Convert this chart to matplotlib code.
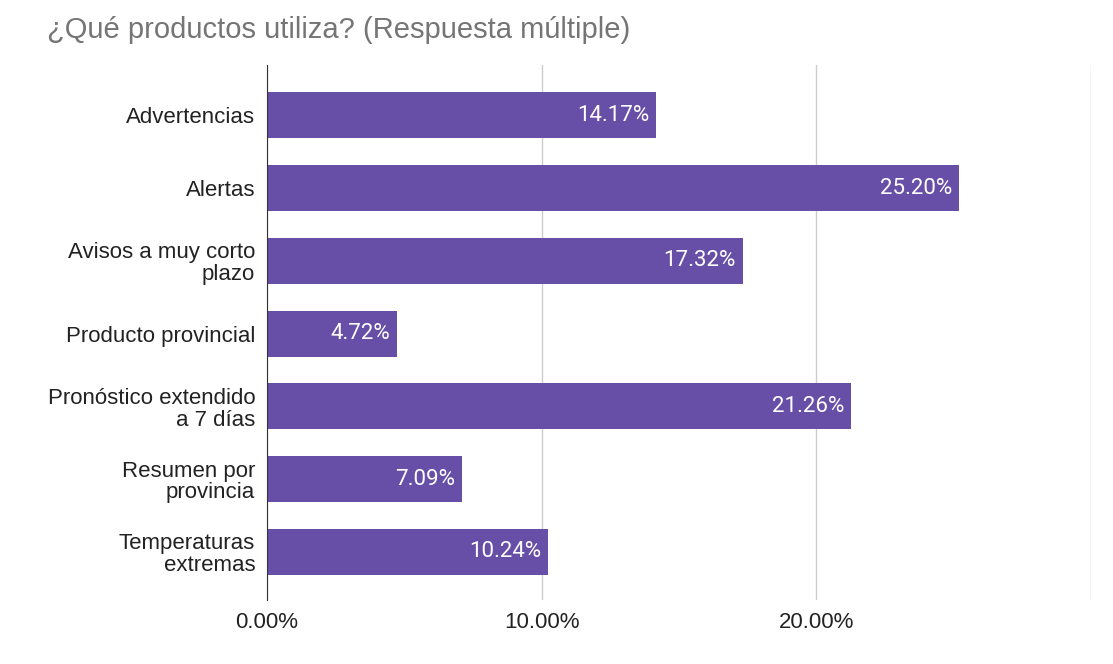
import matplotlib.pyplot as plt

plt.rcParams['font.family'] = ['Liberation Sans', 'DejaVu Sans']

categories = ['Advertencias', 'Alertas', 'Avisos a muy corto\nplazo',
              'Producto provincial', 'Pronóstico extendido\na 7 días',
              'Resumen por\nprovincia', 'Temperaturas\nextremas']
values = [14.17, 25.20, 17.32, 4.72, 21.26, 7.09, 10.24]
xticks = [0, 10, 20, 30]
xtick_labels = ['0.00%', '10.00%', '20.00%', '']

fig = plt.figure(figsize=(11.13, 6.64), dpi=100)
ax = fig.add_axes([0.2399, 0.0964, 0.7403, 0.8057])

ypos = range(len(categories))
bars = ax.barh(ypos, values, height=0.63, color='#674ea7', zorder=3)

for b, v in zip(bars, values):
    ax.text(v - 0.25, b.get_y() + b.get_height() / 2, f'{v:.2f}%',
            ha='right', va='center', color='white', fontsize=16,
            family=['Roboto', 'DejaVu Sans'], zorder=4)

ax.set_xlim(0, 30)
ax.set_ylim(6.66, -0.69)
ax.set_yticks(list(ypos))
ax.set_yticklabels(categories, fontsize=16, color='#222222', linespacing=1.05)
ax.set_xticks(xticks)
ax.set_xticklabels(xtick_labels, fontsize=16, color='#222222')
ax.tick_params(length=0)
ax.tick_params(axis='y', pad=8.5)
ax.tick_params(axis='x', pad=9)

ax.grid(axis='x', color='#cccccc', linewidth=1, zorder=0)
for s in ['top', 'right', 'bottom']:
    ax.spines[s].set_visible(False)
ax.spines['left'].set_color('#333333')
ax.spines['left'].set_zorder(5)

fig.text(0.042, 0.955, '¿Qué productos utiliza? (Respuesta múltiple)',
         fontsize=21, color='#757575', ha='left', va='center')

fig.savefig('out.png', dpi=100, facecolor='white')
